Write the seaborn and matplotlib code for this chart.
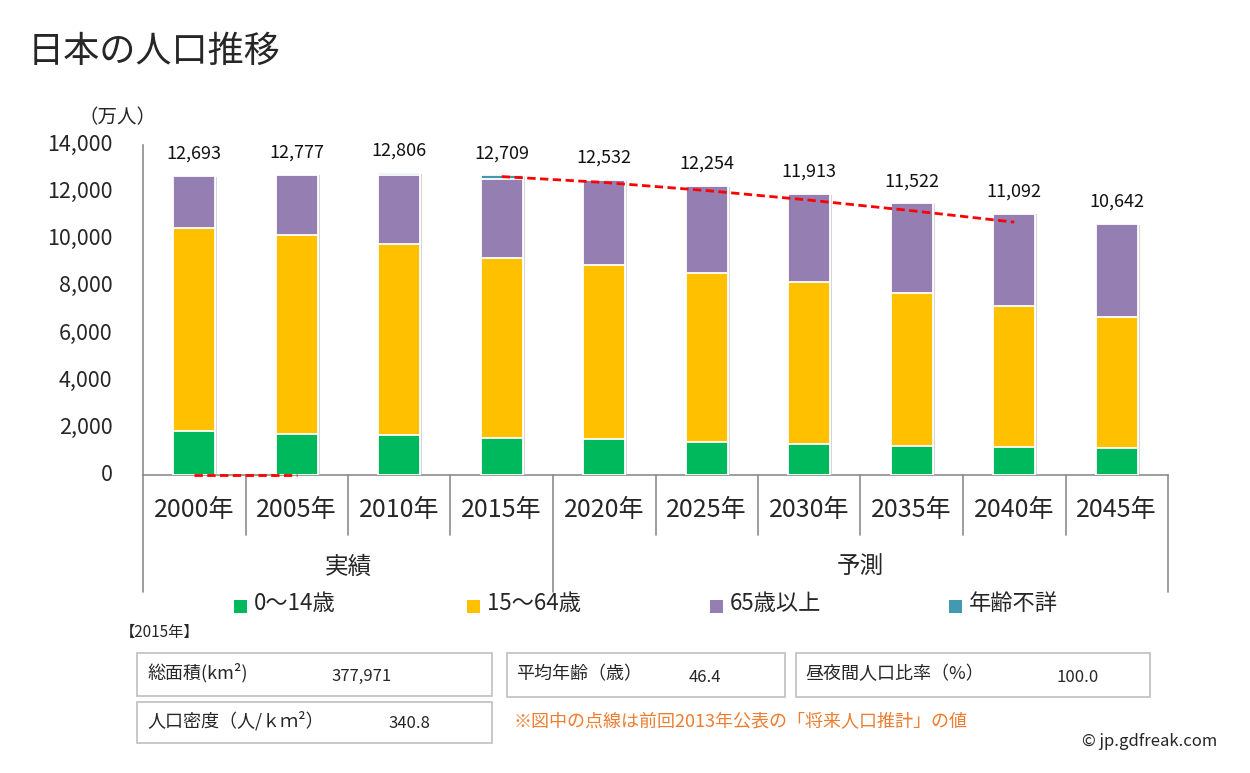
import numpy as np
import pandas as pd
import matplotlib
matplotlib.use("Agg")
import matplotlib.pyplot as plt
import matplotlib.transforms as mtransforms
import matplotlib.patheffects as pe
from matplotlib.patches import Rectangle
import seaborn as sns

# ---------------- data ----------------
years = ["2000年", "2005年", "2010年", "2015年", "2020年",
         "2025年", "2030年", "2035年", "2040年", "2045年"]
age_0_14 = [1847, 1752, 1680, 1589, 1507, 1407, 1321, 1246, 1194, 1138]
age_15_64 = [8622, 8409, 8103, 7629, 7406, 7170, 6875, 6494, 5978, 5584]
age_65_plus = [2204, 2576, 2925, 3347, 3619, 3677, 3716, 3782, 3921, 3919]
age_unknown = [0, 0, 98, 144, 0, 0, 0, 0, 0, 0]
totals = [12693, 12777, 12806, 12709, 12532, 12254, 11913, 11522, 11092, 10642]
prev_estimate = [0, 0, np.nan, 12660, 12410, 12066, 11662, 11212, 10728, np.nan]
series_names = ["0～14歳", "15～64歳", "65歳以上", "年齢不詳"]
groups = ["実績", "予測"]
group_ranges = [(0, 3), (4, 9)]
yticks = [0, 2000, 4000, 6000, 8000, 10000, 12000, 14000]
info_labels = ["総面積(km²)", "平均年齢（歳）", "昼夜間人口比率（%）", "人口密度（人/ｋｍ²）"]
info_values = ["377,971", "46.4", "100.0", "340.8"]

colors = ["#00B95C", "#FFC000", "#957FB2", "#4299B0"]
W, H = 1250, 773

sns.set_theme(style="white")
plt.rcParams["font.family"] = ["Noto Sans CJK JP", "DejaVu Sans"]

fig = plt.figure(figsize=(W / 100, H / 100), dpi=100)


def fx(x):
    return x / W


def fy(y):
    return 1 - y / H


ax_l, ax_r, ax_t, ax_b = 143, 1168, 145, 475
ax = fig.add_axes([fx(ax_l), fy(ax_b), (ax_r - ax_l) / W, (ax_b - ax_t) / H])

df = pd.DataFrame({"year": years, "a": age_0_14, "b": age_15_64,
                   "c": age_65_plus, "u": age_unknown})
df["c1"] = df["a"]
df["c2"] = df["c1"] + df["b"]
df["c3"] = df["c2"] + df["c"]
df["c4"] = df["c3"] + df["u"]

for k, (col, colr) in enumerate(zip(["c4", "c3", "c2", "c1"], colors[::-1])):
    n_before = len(ax.patches)
    sns.barplot(data=df, x="year", y=col, color=colr, saturation=1,
                width=0.41, edgecolor="white", linewidth=1.3, ax=ax, zorder=3)
    if k == 0:
        for p in ax.patches[n_before:]:
            p.set_path_effects([pe.SimplePatchShadow(offset=(1.5, -0.5),
                                                     shadow_rgbFace="#BBBBBB",
                                                     alpha=0.6),
                                pe.Normal()])

# previous estimate dashed line (split on NaN)
idx = np.arange(len(prev_estimate))
vals = np.array(prev_estimate, dtype=float)
seg = []
segments = []
for i, v in zip(idx, vals):
    if np.isnan(v):
        if seg:
            segments.append(seg)
        seg = []
    else:
        seg.append((i, v))
if seg:
    segments.append(seg)
for s in segments:
    xs = [p[0] for p in s]
    ys = [p[1] for p in s]
    n_before = len(ax.lines)
    sns.lineplot(x=xs, y=ys, ax=ax, color="#FF0000", linewidth=2,
                 linestyle=(0, (3, 1.6)), zorder=5)
    for ln in ax.lines[n_before:]:
        ln.set_clip_on(False)

# total labels
for i, t in enumerate(totals):
    top = df["c4"].iloc[i]
    ax.annotate(f"{t:,}", xy=(i, top), xytext=(0, 16), textcoords="offset points",
                ha="center", va="center", fontsize=13, color="#111111")

ax.set_xlim(-0.5, 9.5)
ax.set_ylim(0, 14000)
ax.set_yticks(yticks)
ax.set_yticklabels([f"{v:,}" for v in yticks], fontsize=15.5)
ax.set_xticks(range(len(years)))
ax.set_xticklabels(years, fontsize=18)
ax.tick_params(axis="both", length=0)
ax.tick_params(axis="x", pad=16)
ax.tick_params(axis="y", pad=22)
for lbl in ax.get_yticklabels():
    lbl.set_va("center")
ax.set_xlabel("")
ax.set_ylabel("")
for sp in ["top", "right"]:
    ax.spines[sp].set_visible(False)
for sp in ["left", "bottom"]:
    ax.spines[sp].set_color("#8C8C8C")
    ax.spines[sp].set_linewidth(1.2)

# category table lines below axis
trans = mtransforms.blended_transform_factory(ax.transData, ax.transAxes)
axh = ax_b - ax_t
for b in [0.5, 1.5, 2.5, 4.5, 5.5, 6.5, 7.5, 8.5]:
    ax.plot([b, b], [0, -60 / axh], transform=trans, clip_on=False,
            color="#8C8C8C", linewidth=1.2)
for b in [-0.5, 3.5, 9.5]:
    ax.plot([b, b], [0, -117 / axh], transform=trans, clip_on=False,
            color="#8C8C8C", linewidth=1.2)
for g, (s, e) in zip(groups, group_ranges):
    ax.text((s + e) / 2, -92 / axh, g, transform=trans, ha="center", va="center",
            fontsize=17)

# title & unit
fig.text(fx(28), fy(52), "日本の人口推移", fontsize=26, ha="left", va="center")
fig.text(fx(78), fy(118), "（万人）", fontsize=14, ha="left", va="center")

# legend
leg_x = [240, 473, 716, 955]
for x, name, c in zip(leg_x, series_names, colors):
    fig.patches.append(Rectangle((fx(x - 6), fy(613)), 13 / W, 13 / H,
                                 transform=fig.transFigure, facecolor=c,
                                 edgecolor="none"))
    fig.text(fx(x + 14), fy(604), name, fontsize=16, ha="left", va="center")

fig.text(fx(120), fy(632), "【2015年】", fontsize=11, ha="left", va="center")

# info boxes
boxes = [(137, 653, 492, 696), (507, 653, 785, 697), (796, 653, 1150, 697),
         (137, 702, 492, 743)]
label_pos = [(147, 673), (516, 674), (805, 674), (147, 721)]
value_pos = [(362, 676), (705, 678), (1078, 678), (409, 723)]
for (x0, y0, x1, y1), lab, val, lp, vp in zip(boxes, info_labels, info_values,
                                             label_pos, value_pos):
    fig.patches.append(Rectangle((fx(x0), fy(y1)), (x1 - x0) / W, (y1 - y0) / H,
                                 transform=fig.transFigure, facecolor="white",
                                 edgecolor="#BFBFBF", linewidth=1.2))
    fig.text(fx(lp[0]), fy(lp[1]), lab, fontsize=13, ha="left", va="center")
    fig.text(fx(vp[0]), fy(vp[1]), val, fontsize=12, ha="center", va="center")

fig.text(fx(513), fy(722), "※図中の点線は前回2013年公表の「将来人口推計」の値",
         fontsize=13, color="#ED7D31", ha="left", va="center")
fig.text(fx(1217), fy(742), "© jp.gdfreak.com", fontsize=12, ha="right",
         va="center")

fig.savefig("out.png", dpi=100)
